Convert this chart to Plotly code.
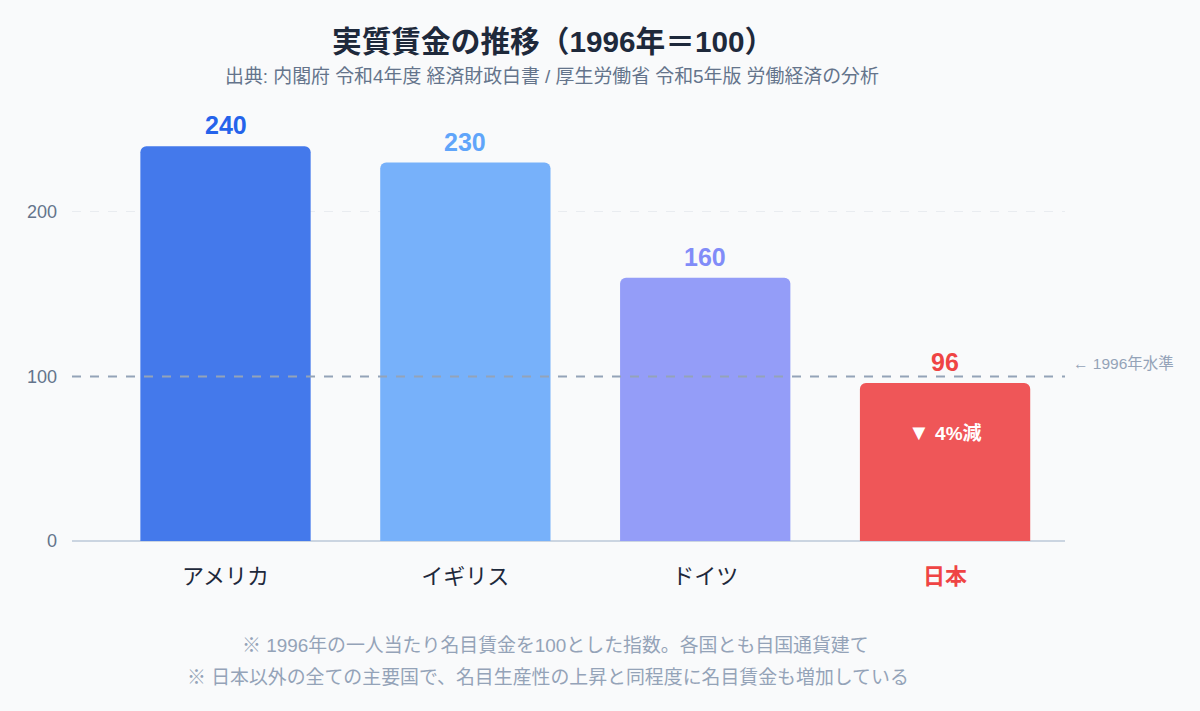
import plotly.graph_objects as go

categories = ["アメリカ", "イギリス", "ドイツ", "日本"]
values = [240, 230, 160, 96]
bar_colors = ["#4479EB", "#77B1FA", "#949DF8", "#EF5658"]
label_colors = ["#2563EB", "#60A5FA", "#818CF8", "#EF4444"]
y_ticks = [0, 100, 200]
baseline = 100
japan_note = "▼ 4%減"
japan_note_y = 66

FONT = "Liberation Sans, Noto Sans CJK JP, sans-serif"

ticktext = []
for c in categories:
    if c == "日本":
        ticktext.append(f"<span style='color:#EF4444'><b>{c}</b></span>")
    else:
        ticktext.append(c)

fig = go.Figure()
fig.add_trace(go.Bar(
    x=categories, y=values,
    marker=dict(color=bar_colors, line=dict(width=0)),
    width=0.71, hoverinfo="skip",
))

annotations = []
for c, v, col in zip(categories, values, label_colors):
    annotations.append(dict(x=c, y=v, xref="x", yref="y", text=f"<b>{v}</b>",
                            showarrow=False, yanchor="bottom", yshift=5,
                            font=dict(size=25, color=col, family=FONT)))
annotations.append(dict(x="日本", y=japan_note_y, xref="x", yref="y",
                        text=f"<b><span style='font-size:22px'>▼</span> 4%減</b>",
                        showarrow=False, yanchor="middle",
                        font=dict(size=19, color="white", family=FONT)))
annotations.append(dict(x=1, y=baseline, xref="paper", yref="y", text="← 1996年水準",
                        showarrow=False, xanchor="left", yanchor="middle", xshift=6, yshift=13,
                        font=dict(size=15.5, color="#94A3B8", family=FONT)))
annotations.append(dict(x=0.484, y=42, xref="paper", yref="paper", text="<b>実質賃金の推移（1996年＝100）</b>",
                        showarrow=False, yanchor="middle", font=dict(size=29.7, color="#1E293B", family=FONT)))
annotations.append(dict(x=0.483, y=77, xref="paper", yref="paper",
                        text="出典: 内閣府 令和4年度 経済財政白書 / 厚生労働省 令和5年版 労働経済の分析",
                        showarrow=False, yanchor="middle", font=dict(size=18.9, color="#64748B", family=FONT)))
annotations.append(dict(x=0.487, y=645, xref="paper", yref="paper",
                        text="※ 1996年の一人当たり名目賃金を100とした指数。各国とも自国通貨建て",
                        showarrow=False, yanchor="middle", font=dict(size=18.9, color="#94A3B8", family=FONT)))
annotations.append(dict(x=0.479, y=677, xref="paper", yref="paper",
                        text="※ 日本以外の全ての主要国で、名目生産性の上昇と同程度に名目賃金も増加している",
                        showarrow=False, yanchor="middle", font=dict(size=18.9, color="#94A3B8", family=FONT)))

# convert pixel y for paper-positioned text annotations
H = 711
top, bottom = 105, 170
ph = H - top - bottom
for a in annotations:
    if a["yref"] == "paper":
        a["y"] = (H - bottom - a["y"]) / ph

fig.update_layout(
    width=1200, height=711,
    margin=dict(l=72, r=135, t=top, b=bottom),
    paper_bgcolor="#F9FAFB", plot_bgcolor="#F9FAFB",
    font=dict(family=FONT, color="#334155"),
    barcornerradius=6,
    showlegend=False,
    xaxis=dict(range=[-0.64, 3.5], tickvals=categories, ticktext=ticktext,
               tickfont=dict(size=22, color="#1E293B"), showgrid=False,
               showline=False, ticks="", ticklabelstandoff=20),
    yaxis=dict(range=[0, 265], tickvals=y_ticks, tickfont=dict(size=18, color="#64748B"),
               showgrid=True, gridcolor="#E9ECF0", griddash="dash", gridwidth=1,
               zeroline=True, zerolinecolor="#CBD5E1", zerolinewidth=1.5,
               ticks="", ticklabelstandoff=14, showline=False),
    shapes=[dict(type="line", xref="paper", yref="y", x0=0, x1=1, y0=baseline, y1=baseline,
                 line=dict(color="#94A3B8", width=2, dash="dash"), layer="above")],
    annotations=annotations,
)

fig.write_html("out.html", config={"displayModeBar": False},
               post_script="document.body.style.margin='0';document.body.style.background='#F9FAFB';")
